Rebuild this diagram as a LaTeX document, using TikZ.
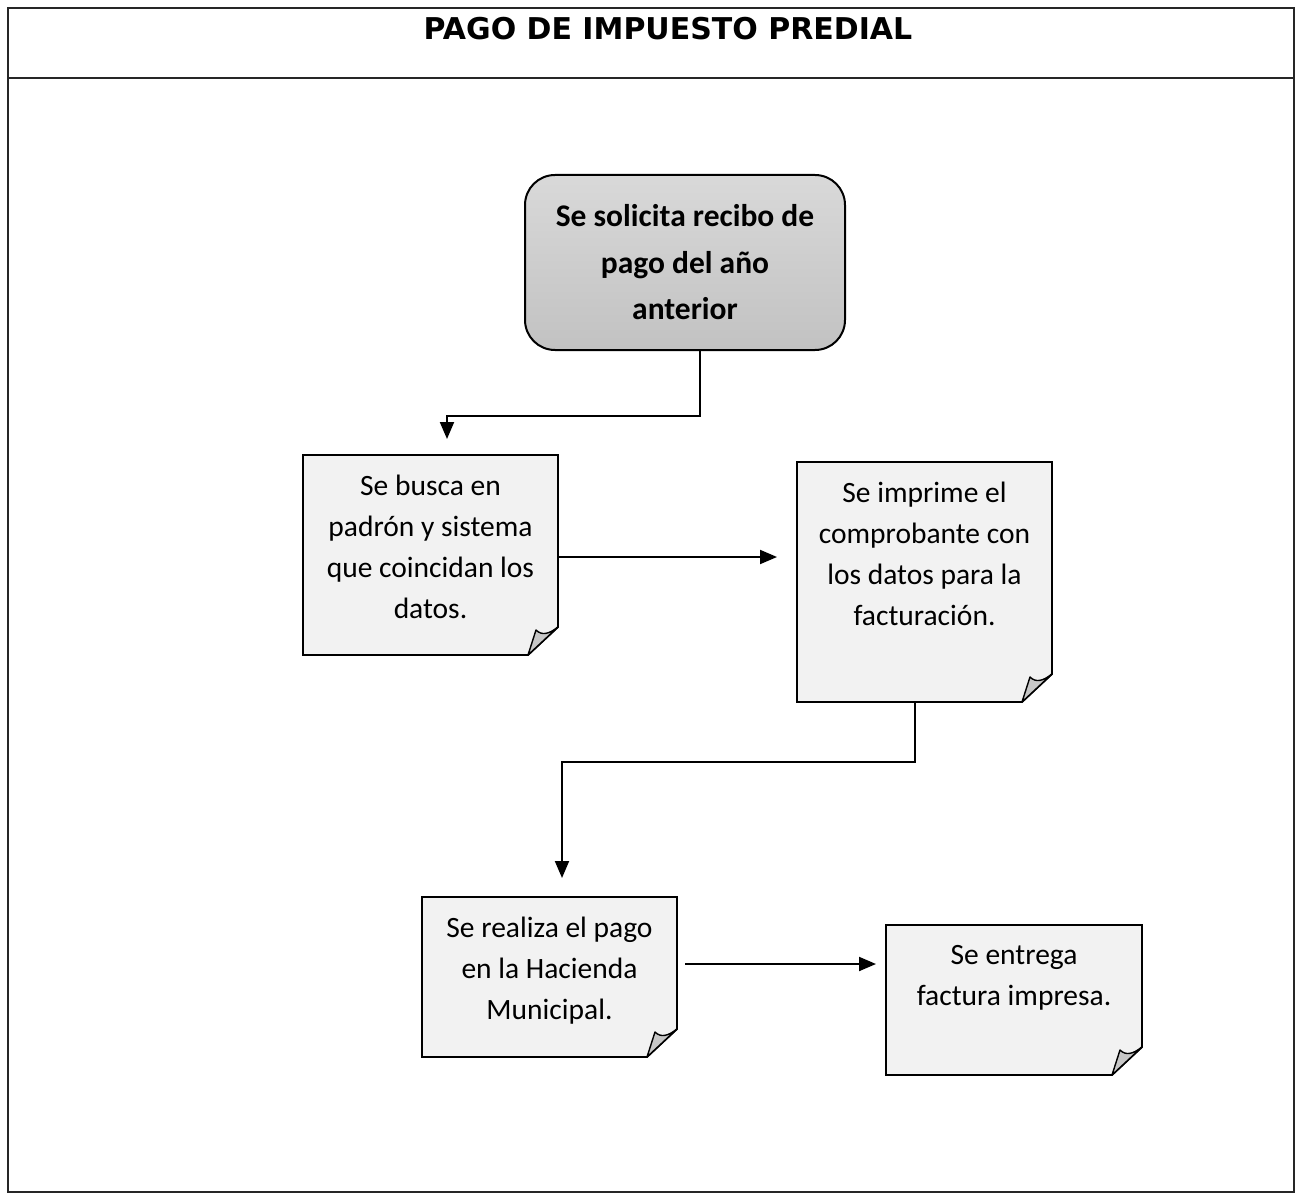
\documentclass[tikz,border=0pt]{standalone}
\usepackage{fontspec}
\setmainfont{Carlito}
\newfontfamily\titlefont{DejaVu Sans}
\usetikzlibrary{arrows.meta}
\definecolor{paper}{gray}{0.95}
\definecolor{curl}{gray}{0.78}
\begin{document}
\begin{tikzpicture}[x=1pt,y=-1pt,
  frameline/.style={line width=2.6pt, draw=black!85},
  startbox/.style={draw, line width=2pt, rounded corners=30pt,
    minimum width=320pt, minimum height=175pt, inner sep=0pt,
    top color=black!15, middle color=black!10, bottom color=black!24,
    align=center, font=\bfseries\fontsize{31.5}{46.5}\selectfont},
  notebox/.style={minimum width=255pt, inner sep=0pt, outer sep=0pt},
  notetext/.style={anchor=north, inner sep=0pt, align=center,
    font=\fontsize{29.5}{40.8}\selectfont},
  noteline/.style={draw, line width=1.9pt, fill=paper, line join=miter},
  curlline/.style={draw, line width=1.4pt, fill=curl, line join=round},
  conn/.style={line width=2pt, -{Triangle[length=17pt,width=14pt]}}
]
\useasboundingbox (0,0) rectangle (1304,1198);
\fill[white] (0,0) rectangle (1304,1198);

% page frame with the title band
\draw[frameline] (8,8) rectangle (1294,1192);
\draw[frameline] (8,78) -- (1294,78);
\node[font=\titlefont\bfseries\fontsize{30}{34}\selectfont, anchor=base, inner sep=0pt]
  (title) at (668,39.5) {PAGO DE IMPUESTO PREDIAL};

% first step
\node[startbox] (start) at (685,262.5) {Se solicita recibo de\\pago del año\\anterior};

% note boxes (outline drawn below, with a curled corner)
\node[notebox, minimum height=200pt] (b1) at (430.5,555) {};
\node[notebox, minimum height=240pt] (b2) at (924.5,582) {};
\node[notebox, minimum height=160pt] (b3) at (549.5,977) {};
\node[notebox, minimum height=150pt, minimum width=256pt] (b4) at (1014,1000) {};

\foreach \n in {b1,b2,b3,b4}{
  \path[noteline] (\n.north west) -- (\n.north east)
    -- ([shift={(0,-28)}]\n.south east) -- ([shift={(-30,0)}]\n.south east)
    -- (\n.south west) -- cycle;
  \path[curlline] ([shift={(0,-28)}]\n.south east)
    .. controls ([shift={(-9,-21)}]\n.south east) and ([shift={(-16,-19)}]\n.south east)
    .. ([shift={(-22,-25)}]\n.south east)
    -- ([shift={(-30,0)}]\n.south east) -- cycle;
}

\node[notetext] (t1) at ([shift={(0,20)}]b1.north)
  {Se busca en\\padrón y sistema\\que coincidan los\\datos.};
\node[notetext] (t2) at ([shift={(0,20)}]b2.north)
  {Se imprime el\\comprobante con\\los datos para la\\facturación.};
\node[notetext] (t3) at ([shift={(0,20)}]b3.north)
  {Se realiza el pago\\en la Hacienda\\Municipal.};
\node[notetext] (t4) at ([shift={(0,20)}]b4.north)
  {Se entrega\\factura impresa.};

% connectors
\draw[conn, shorten >=16pt] ([shift={(15,0)}]start.south) -- ++(0,65)
  -| ([shift={(16.5,0)}]b1.north);
\draw[conn, shorten >=20pt] ([shift={(0,2)}]b1.east) -- ([shift={(0,2)}]b1.east -| b2.west);
\draw[conn, shorten >=19pt] ([shift={(-9.5,0)}]b2.south) -- ++(0,60)
  -| ([shift={(12.5,0)}]b3.north);
\draw[conn, shorten <=8pt, shorten >=10pt] ([shift={(0,-13)}]b3.east)
  -- ([shift={(0,-13)}]b3.east -| b4.west);
\end{tikzpicture}
\end{document}
